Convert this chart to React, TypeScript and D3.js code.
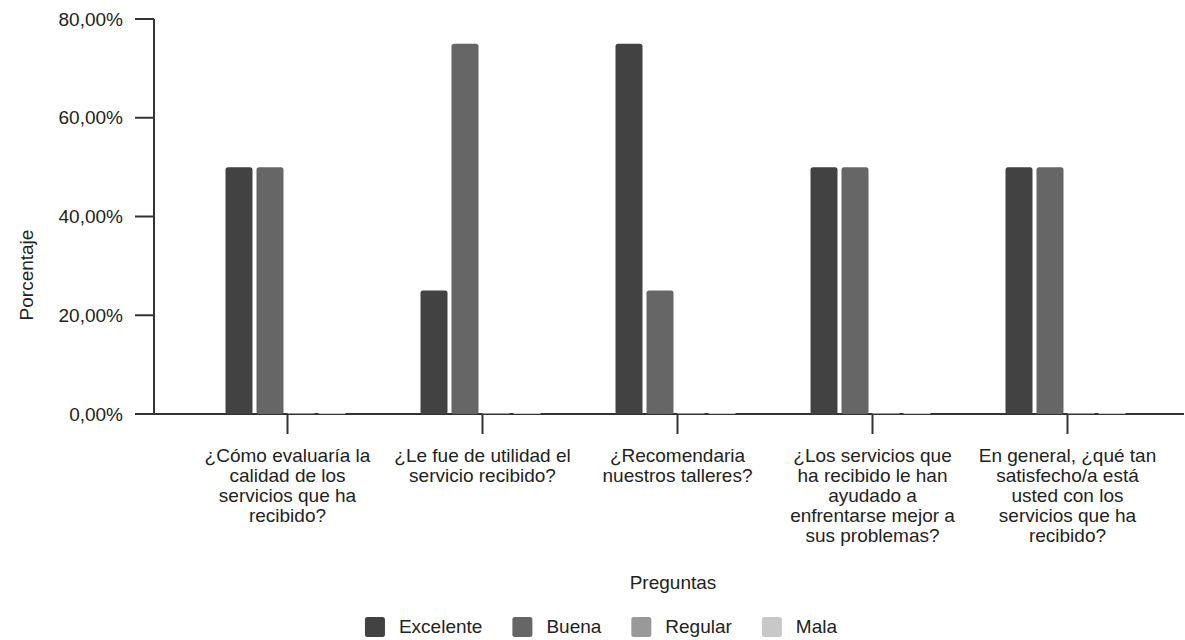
import React from "react";
import * as d3 from "d3";

const categories: string[] = [
  "¿Cómo evaluaría la calidad de los servicios que ha recibido?",
  "¿Le fue de utilidad el servicio recibido?",
  "¿Recomendaria nuestros talleres?",
  "¿Los servicios que ha recibido le han ayudado a enfrentarse mejor a sus problemas?",
  "En general, ¿qué tan satisfecho/a está usted con los servicios que ha recibido?",
];
const seriesNames: string[] = ["Excelente", "Buena", "Regular", "Mala"];
const excelente: number[] = [50, 25, 75, 50, 50];
const buena: number[] = [50, 75, 25, 50, 50];
const regular: number[] = [0, 0, 0, 0, 0];
const mala: number[] = [0, 0, 0, 0, 0];
const seriesValues: number[][] = [excelente, buena, regular, mala];
const seriesColors: string[] = ["#424242", "#666666", "#999999", "#c8c8c8"];
const yTicks: number[] = [0, 20, 40, 60, 80];
const yTitle = "Porcentaje";
const xTitle = "Preguntas";

const W = 1185;
const H = 640;
const FONT = "'Liberation Sans', Arial, sans-serif";
const FS = 19;
const TEXT = "#222222";
const AXIS = "#333333";

let ctx: CanvasRenderingContext2D | null = null;
function measure(t: string): number {
  if (!ctx) {
    const c = document.createElement("canvas");
    ctx = c.getContext("2d");
  }
  if (!ctx) return t.length * FS * 0.5;
  ctx.font = `${FS}px 'Liberation Sans', Arial, sans-serif`;
  return ctx.measureText(t).width;
}

function wrap(text: string, maxW: number): string[] {
  const words = text.split(" ");
  const lines: string[] = [];
  let cur = "";
  for (const w of words) {
    const test = cur ? cur + " " + w : w;
    if (cur && measure(test) > maxW) {
      lines.push(cur);
      cur = w;
    } else cur = test;
  }
  if (cur) lines.push(cur);
  return lines;
}

const fmt = (v: number) => v.toFixed(2).replace(".", ",") + "%";

export default function App() {
  const axisX0 = 154;
  const axisX1 = 1184;
  const y = d3.scaleLinear().domain([0, 80]).range([414, 19]);
  const x = d3.scaleBand<string>().domain(categories).range([190, 1165]).paddingInner(0).paddingOuter(0);
  const xs = d3.scaleBand<string>().domain(seriesNames).range([-62, 58]).paddingInner(4 / 31).paddingOuter(0);
  const bw = xs.bandwidth();

  // legend layout
  const swatch = 20;
  const textOff = 34;
  const gap = 30;
  const itemWidths = seriesNames.map((s) => textOff + measure(s));
  const legendTotal = d3.sum(itemWidths) + gap * (seriesNames.length - 1);
  const legendStart = 601 - legendTotal / 2;
  const legendX: number[] = [];
  let acc = legendStart;
  itemWidths.forEach((w) => {
    legendX.push(acc);
    acc += w + gap;
  });

  return (
    <svg
      width={W}
      height={H}
      style={{ position: "absolute", left: 0, top: 0, background: "#fff" }}
      fontFamily={FONT}
      fontSize={FS}
    >
      {/* y axis */}
      <line x1={axisX0} x2={axisX0} y1={y(80)} y2={y(0)} stroke={AXIS} strokeWidth={2} />
      {yTicks.map((t) => (
        <g key={t}>
          <line x1={axisX0 - 19} x2={axisX0} y1={y(t)} y2={y(t)} stroke={AXIS} strokeWidth={2} />
          <text x={axisX0 - 31} y={y(t)} dy="0.35em" textAnchor="end" fill={TEXT}>
            {fmt(t)}
          </text>
        </g>
      ))}
      <text
        transform={`translate(26,275) rotate(-90)`}
        textAnchor="middle"
        dy="0.35em"
        fill={TEXT}
      >
        {yTitle}
      </text>

      {/* x axis */}
      <line x1={axisX0} x2={axisX1} y1={y(0)} y2={y(0)} stroke={AXIS} strokeWidth={2} />
      {categories.map((c) => {
        const cx = (x(c) ?? 0) + x.bandwidth() / 2;
        const lines = wrap(c, 180);
        return (
          <g key={c}>
            <line x1={cx} x2={cx} y1={y(0)} y2={y(0) + 20} stroke={AXIS} strokeWidth={2} />
            <text x={cx} y={462} textAnchor="middle" fill={TEXT}>
              {lines.map((l, i) => (
                <tspan key={i} x={cx} dy={i === 0 ? 0 : 20}>
                  {l}
                </tspan>
              ))}
            </text>
          </g>
        );
      })}

      {/* bars */}
      {categories.map((c, ci) => {
        const cx = (x(c) ?? 0) + x.bandwidth() / 2;
        return seriesNames.map((s, si) => {
          const v = seriesValues[si][ci];
          const h = Math.max(1, y(0) - y(v));
          return (
            <rect
              key={c + s}
              x={cx + (xs(s) ?? 0)}
              y={y(0) - h}
              width={bw}
              height={h}
              rx={v > 0 ? 2.5 : 0}
              fill={seriesColors[si]}
            />
          );
        });
      })}

      <text x={673} y={589} textAnchor="middle" fill={TEXT}>
        {xTitle}
      </text>

      {/* legend */}
      {seriesNames.map((s, i) => (
        <g key={s} transform={`translate(${legendX[i]},0)`}>
          <rect x={0} y={617} width={swatch} height={swatch} rx={2.5} fill={seriesColors[i]} />
          <text x={textOff} y={633} fill={TEXT}>
            {s}
          </text>
        </g>
      ))}
    </svg>
  );
}
